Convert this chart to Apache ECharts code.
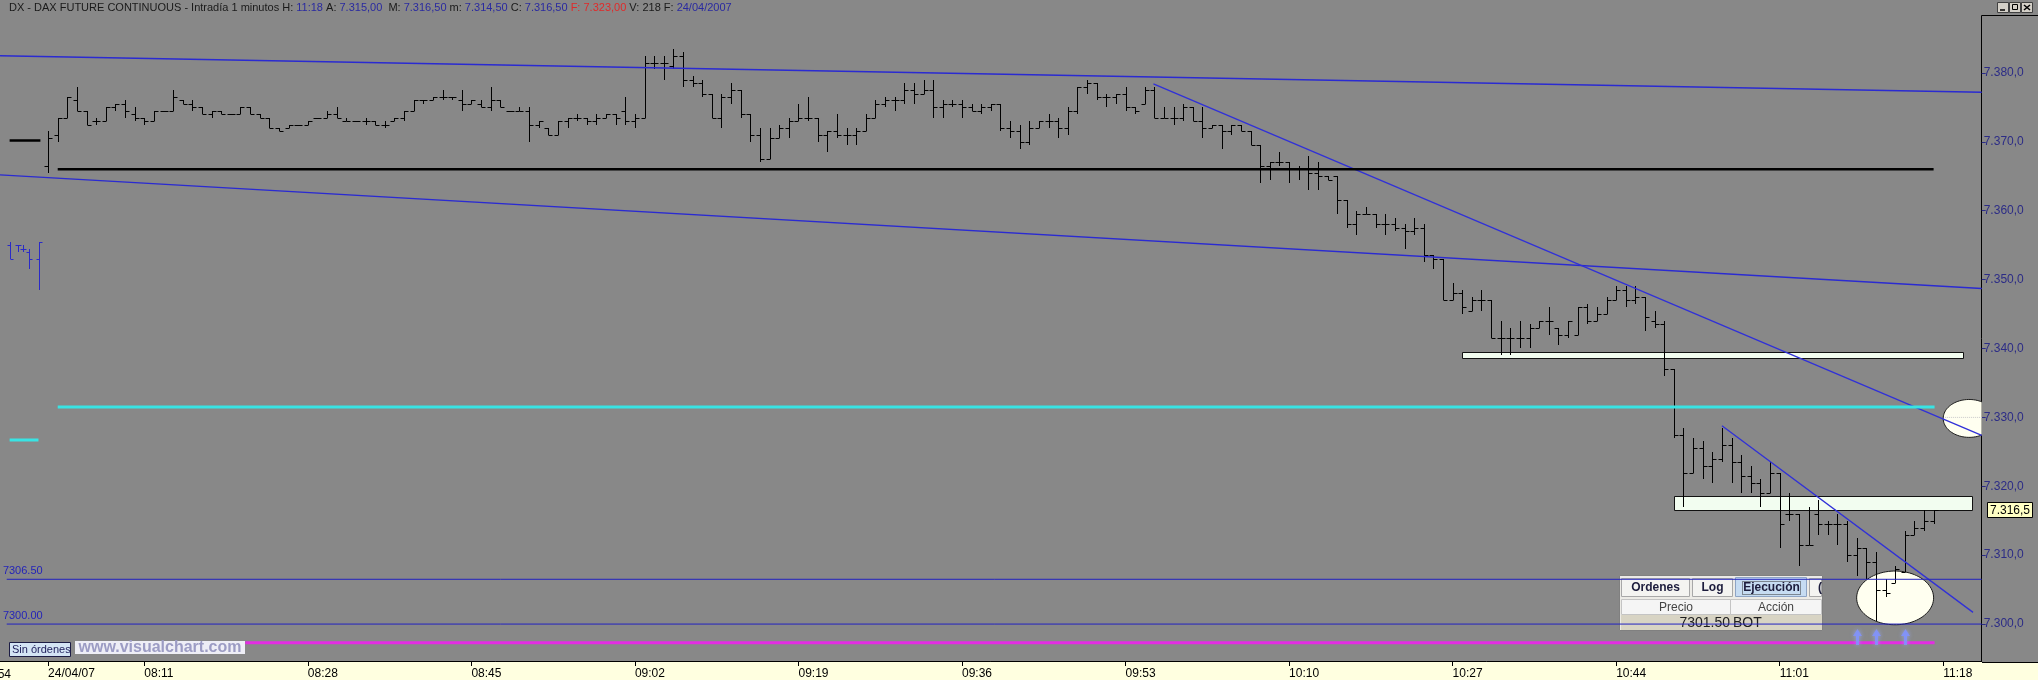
<!DOCTYPE html>
<html>
<head>
<meta charset="utf-8">
<title>DAX Future Continuous - 1 minuto</title>
<script src="https://cdn.jsdelivr.net/npm/echarts@6/dist/echarts.min.js"></script>
<style>
  html, body { margin: 0; padding: 0; background: #888888; }
  #chart { width: 2038px; height: 680px; }
</style>
</head>
<body>
<div id="chart"></div>
<script>
// minutes since midnight; first bar of the session is 08:01
const firstBarMinute = 481

const opens = [
  7366.5, 7371, 7373.5, 7376, 7374.5, 7373, 7373, 7375, 7375.5, 7374,
  7373.5, 7373, 7374.5, 7374.5, 7376, 7375.5, 7375, 7374, 7374.5, 7374,
  7374, 7375, 7374, 7373.5, 7372, 7372, 7372.5, 7372.5, 7373.5, 7373.5,
  7374, 7373, 7373, 7373, 7373, 7372.5, 7373, 7373.5, 7374.5, 7376,
  7376, 7376.5, 7376.5, 7376, 7375.5, 7375.5, 7375, 7376, 7374.5, 7374.5,
  7374.5, 7372.5, 7372, 7371, 7373, 7373.5, 7373.5, 7373, 7373.5, 7374,
  7374.5, 7373, 7373.5, 7381.5, 7381.5, 7381, 7382.5, 7379, 7378.5, 7377,
  7373.5, 7376.5, 7377.5, 7374, 7371, 7367.5, 7370.5, 7372, 7373, 7373.5,
  7373.5, 7371, 7371.5, 7371, 7371, 7371.5, 7373.5, 7375.5, 7376, 7376,
  7377.5, 7377, 7377.5, 7375, 7375.5, 7375.5, 7375, 7374.5, 7375, 7375.5,
  7372, 7371.5, 7370, 7372, 7373, 7373, 7372, 7374.5, 7378, 7378.5,
  7376.5, 7376.5, 7377, 7375, 7375.5, 7377.5, 7373.5, 7373.5, 7373.5, 7375,
  7373, 7372, 7372.5, 7371.5, 7372.5, 7371.5, 7369.5, 7366.5, 7367, 7367,
  7366, 7366, 7365.5, 7365, 7365, 7361.5, 7358, 7359.5, 7359.5, 7358,
  7358, 7357.5, 7357, 7357.5, 7353.5, 7353, 7347, 7348, 7345.5, 7347,
  7347, 7341.5, 7341.5, 7341.5, 7341.5, 7343, 7344, 7343, 7342, 7342,
  7346, 7344, 7345, 7347, 7348.5, 7347, 7347.5, 7344, 7343.5, 7337,
  7327.5, 7322, 7325.5, 7323, 7324, 7326, 7323.5, 7321.5, 7320.5, 7319,
  7322, 7316, 7316, 7311.5, 7316, 7314.5, 7314.5, 7314.5, 7310, 7311,
  7309, 7305, 7306, 7307.5, 7313, 7314, 7315
]
const highs = [
  7371.5, 7373.5, 7376.5, 7378, 7374.5, 7373.5, 7375, 7375.5, 7376, 7375,
  7373.5, 7374.5, 7374.5, 7377.5, 7376, 7376, 7375, 7374.5, 7374.5, 7374,
  7375, 7375, 7374, 7373.5, 7372, 7372.5, 7372.5, 7373, 7373.5, 7374.5,
  7375, 7373.5, 7373, 7373.5, 7373, 7373, 7373.5, 7374.5, 7376, 7376,
  7376.5, 7377.5, 7376.5, 7377.5, 7376, 7376, 7378, 7376, 7374.5, 7375,
  7375, 7373, 7372, 7373, 7373.5, 7374, 7373.5, 7374, 7374, 7374,
  7376.5, 7374, 7382.5, 7382.5, 7382.5, 7383.5, 7383, 7379.5, 7379, 7377,
  7377, 7378.5, 7377.5, 7374, 7372, 7372, 7372.5, 7373.5, 7375.5, 7376.5,
  7373.5, 7371.5, 7374, 7372, 7372, 7374, 7376, 7376.5, 7376.5, 7378.5,
  7378.5, 7379, 7379, 7376, 7376, 7376, 7375.5, 7375.5, 7375.5, 7375.5,
  7373, 7372.5, 7373, 7373, 7374, 7373.5, 7375, 7378, 7379, 7378.5,
  7377, 7377, 7378, 7375, 7378, 7378, 7375, 7375, 7375.5, 7375,
  7375, 7372.5, 7372.5, 7372.5, 7372.5, 7371.5, 7369.5, 7367, 7368.5, 7367,
  7366.5, 7368, 7367, 7365, 7365, 7361.5, 7360, 7360.5, 7359.5, 7359.5,
  7359, 7358, 7359, 7358, 7353.5, 7353, 7349.5, 7348.5, 7347.5, 7348.5,
  7347, 7344, 7343, 7344, 7343.5, 7344, 7346, 7343, 7344, 7346,
  7346.5, 7346, 7347.5, 7349, 7349, 7349, 7347.5, 7345.5, 7344, 7337,
  7328.5, 7327, 7326.5, 7325, 7328.5, 7327, 7324.5, 7323, 7321, 7323.5,
  7322, 7319, 7316, 7317, 7318, 7315, 7316, 7315, 7312.5, 7311,
  7310.5, 7306.5, 7308.5, 7313.5, 7315, 7316.5, 7316.5
]
const lows = [
  7365.5, 7370, 7373.5, 7374.5, 7372.5, 7372.5, 7373, 7374.5, 7373.5, 7373,
  7372.5, 7373, 7374.5, 7374.5, 7375.5, 7374.5, 7374, 7373.5, 7374, 7374,
  7374, 7374, 7373.5, 7372, 7371.5, 7372, 7372.5, 7372.5, 7373.5, 7373.5,
  7373.5, 7373, 7373, 7372.5, 7372.5, 7372, 7373, 7373, 7374.5, 7375.5,
  7376, 7376, 7376, 7374.5, 7375.5, 7375, 7374.5, 7375, 7374.5, 7374.5,
  7370, 7372, 7371, 7371, 7372, 7373, 7372.5, 7372.5, 7373.5, 7372.5,
  7372.5, 7372, 7373.5, 7380.5, 7379, 7380.5, 7378, 7378, 7376.5, 7373.5,
  7372, 7375.5, 7373.5, 7370, 7367, 7367.5, 7370.5, 7370.5, 7373, 7373,
  7370, 7368.5, 7370.5, 7369.5, 7369.5, 7371.5, 7373.5, 7375, 7374.5, 7375.5,
  7375.5, 7377, 7373.5, 7373.5, 7375, 7373.5, 7374.5, 7374, 7374.5, 7371.5,
  7370.5, 7369, 7369.5, 7372, 7372, 7370.5, 7371, 7374, 7377, 7376,
  7375, 7375.5, 7374.5, 7374, 7375.5, 7373.5, 7373.5, 7372.5, 7373, 7373,
  7370.5, 7372, 7369, 7371, 7371.5, 7369.5, 7364, 7364.5, 7366.5, 7364,
  7364.5, 7363, 7363, 7364.5, 7359.5, 7357.5, 7356.5, 7359.5, 7357.5, 7356.5,
  7357, 7354.5, 7356.5, 7352.5, 7351.5, 7347, 7347, 7345, 7345.5, 7345.5,
  7341.5, 7339, 7339, 7340, 7340, 7343, 7342, 7340.5, 7341.5, 7342,
  7343.5, 7344, 7345, 7347, 7346, 7346.5, 7342.5, 7343, 7336, 7327,
  7317, 7322, 7321, 7320.5, 7323.5, 7320.5, 7319, 7319, 7317, 7319,
  7311, 7315, 7308.5, 7311.5, 7313, 7313, 7311.5, 7309, 7307, 7306.5,
  7300.5, 7304, 7306, 7307.5, 7313, 7313.5, 7314.5
]
const closes = [
  7370.5, 7373.5, 7376.5, 7374.5, 7372.5, 7373, 7375, 7375.5, 7374.5, 7373.5,
  7373, 7374.5, 7374.5, 7376.5, 7375.5, 7375, 7374, 7374.5, 7374, 7374,
  7375, 7374, 7373.5, 7372, 7371.5, 7372.5, 7372.5, 7373, 7373.5, 7374,
  7373.5, 7373, 7373, 7373, 7372.5, 7372.5, 7373.5, 7374.5, 7376, 7376,
  7376.5, 7376.5, 7376.5, 7375.5, 7376, 7375, 7376, 7375, 7374.5, 7374.5,
  7372.5, 7373, 7371, 7373, 7373.5, 7373.5, 7373, 7373.5, 7374, 7373.5,
  7373, 7373.5, 7381.5, 7381.5, 7381.5, 7382.5, 7379, 7378.5, 7377, 7373.5,
  7376.5, 7377.5, 7374, 7371, 7367.5, 7370.5, 7372, 7373, 7373.5, 7373.5,
  7371, 7371.5, 7371, 7371, 7371.5, 7373.5, 7375.5, 7376, 7376, 7377.5,
  7377, 7377.5, 7375, 7375.5, 7375.5, 7375, 7374.5, 7375, 7375.5, 7372,
  7371.5, 7370, 7372, 7373, 7373, 7372, 7374.5, 7378, 7378.5, 7376.5,
  7376.5, 7377, 7375, 7374.5, 7377.5, 7373.5, 7373.5, 7373.5, 7375, 7373,
  7372, 7372.5, 7371.5, 7372.5, 7371.5, 7369.5, 7366.5, 7367, 7367, 7366,
  7366, 7365.5, 7365, 7364.5, 7361.5, 7358, 7359.5, 7359.5, 7358, 7358,
  7357.5, 7357, 7357.5, 7353.5, 7353, 7347, 7348, 7346, 7347, 7347,
  7341.5, 7341.5, 7341.5, 7341.5, 7343, 7344, 7344, 7342, 7344, 7346,
  7344, 7345, 7347, 7348.5, 7347, 7347.5, 7344.5, 7343.5, 7337, 7327.5,
  7322, 7325.5, 7323, 7324, 7326, 7323.5, 7321.5, 7320.5, 7319, 7322,
  7314.5, 7316, 7311.5, 7311.5, 7314.5, 7314.5, 7314.5, 7310, 7311, 7309,
  7305, 7304.5, 7308, 7313, 7314, 7315, 7316.5
]

// leftover blue bars at the left edge: [minute, open, high, low, close]
const prevBars = [
  [477.0, 7355, 7355.5, 7353, 7353],
  [477.9, 7355, 7355, 7354, 7355],
  [478.4, 7354.5, 7355, 7354, 7354.5],
  [479.0, 7354, 7354.5, 7351.5, 7353],
  [480.1, 7353, 7355.5, 7348.5, 7355.5]
]

// axis ticks
const timeTicks = [481, 491, 508, 525, 542, 559, 576, 593, 610, 627, 644, 661, 678]
const priceTicks = [7300, 7310, 7320, 7330, 7340, 7350, 7360, 7370, 7380]

// drawn objects: [minute, price] end points
const upperChannel = [[476, 7382.5], [682, 7377.2]]
const lowerChannel = [[476, 7365.2], [682, 7348.7]]
const trendLong = [[595.9, 7378.4], [682, 7327.4]]
const trendShort = [[655, 7328.8], [681.1, 7301.7]]
const blackLevel = [[482, 7366], [677, 7366]]
const blackStub = [[477, 7370.2], [480.2, 7370.2]]
const cyanLevel = [[482, 7331.5], [677.1, 7331.5]]
const cyanStub = [[477, 7326.7], [480, 7326.7]]
const stopLevel = [[476.7, 7306.5], [682, 7306.5]]
const baseLevel = [[476.7, 7300], [682, 7300]]
const magentaLevel = [[501.5, 7297.3], [677.1, 7297.3]]
const dottedLevel = [[678.2, 7330], [682, 7330]]
const levelLabels = [[476.3, 7306.5], [476.3, 7300]]
const levelTexts = ['7306.50', '7300.00']

// rectangles and ellipses: [minute1, price1, minute2, price2]
const zoneBoxes = [
  [628, 7339.5, 680.1, 7338.6],
  [650, 7318.6, 681, 7316.6]
]
const ellipses = [
  [669.0, 7307.7, 677.0, 7299.9],
  [678.0, 7332.6, 683.4, 7327.1]
]
// buy arrows: [minute, price of the tip]
const buyArrows = [[669, 7299.3], [671, 7299.3], [674, 7299.3]]
const lastPrice = [[682, 7316.5]]

function pad(n) {
  return n < 10 ? '0' + n : '' + n
}

function timeLabel(v) {
  if (v === firstBarMinute) return '24/04/07'
  return pad(Math.floor(v / 60)) + ':' + pad(v % 60)
}

function priceLabel(v, digits) {
  const parts = v.toFixed(digits).split('.')
  return parts[0].replace(/\B(?=(\d{3})+(?!\d))/g, '.') + ',' + parts[1]
}

function plotClip(params) {
  const cs = params.coordSys
  return { type: 'rect', shape: { x: cs.x, y: cs.y, width: cs.width, height: cs.height } }
}

function ohlcRenderer(color, tick) {
  return function(params, api) {
    const t = api.value(0)
    const pO = api.coord([t, api.value(1)])
    const pH = api.coord([t, api.value(2)])
    const pL = api.coord([t, api.value(3)])
    const pC = api.coord([t, api.value(4)])
    const x = Math.round(pO[0]) + 0.5
    const yO = Math.round(pO[1]) + 0.5
    const yC = Math.round(pC[1]) + 0.5
    const style = { stroke: color, lineWidth: 1 }
    return {
      type: 'group',
      children: [
        { type: 'line', shape: { x1: x, y1: Math.round(pH[1]), x2: x, y2: Math.max(Math.round(pL[1]), Math.round(pH[1]) + 1) }, style },
        { type: 'line', shape: { x1: x - tick, y1: yO, x2: x, y2: yO }, style },
        { type: 'line', shape: { x1: x, y1: yC, x2: x + tick, y2: yC }, style }
      ]
    }
  }
}

const bars = opens.map((o, i) => [firstBarMinute + i, o, highs[i], lows[i], closes[i]])

function lineSeries(data, color, width, z, type) {
  return {
    type: 'line',
    data: data,
    symbol: 'none',
    silent: true,
    z: z,
    lineStyle: { color: color, width: width, type: type || 'solid' }
  }
}

const chart = echarts.init(document.getElementById('chart'))

const options = {
  animation: false,
  backgroundColor: '#888888',
  textStyle: { fontFamily: 'Liberation Sans' },
  grid: {
    left: 0,
    right: 56.3,
    top: 16,
    bottom: 18
  },
  xAxis: {
    type: 'value',
    min: 476,
    max: 682,
    axisLine: { show: true, lineStyle: { color: '#000', width: 1 } },
    axisTick: { show: true, length: 5, lineStyle: { color: '#000' }, customValues: timeTicks },
    axisLabel: {
      customValues: timeTicks,
      formatter: timeLabel,
      align: 'left',
      margin: 7,
      color: '#000',
      fontSize: 12,
      fontFamily: 'Liberation Sans'
    },
    splitLine: { show: false }
  },
  yAxis: {
    type: 'value',
    position: 'right',
    min: 7294.64,
    max: 7388.26,
    axisLine: { show: true, lineStyle: { color: '#000', width: 1 } },
    axisTick: { show: true, length: 4, lineStyle: { color: '#2c2c86' }, customValues: priceTicks },
    axisLabel: {
      customValues: priceTicks,
      formatter: v => priceLabel(v, 1),
      margin: 2,
      color: '#2c2c86',
      fontSize: 12,
      fontFamily: 'Liberation Sans'
    },
    splitLine: { show: false }
  },
  series: [
    {
      type: 'custom',
      name: 'ellipses',
      data: ellipses,
      silent: true,
      z: 1,
      renderItem(params, api) {
        const a = api.coord([api.value(0), api.value(1)])
        const b = api.coord([api.value(2), api.value(3)])
        const cx = (a[0] + b[0]) / 2
        const cy = (a[1] + b[1]) / 2
        const rx = Math.abs(b[0] - a[0]) / 2
        const ry = Math.abs(b[1] - a[1]) / 2
        const pts = []
        for (let k = 0; k < 90; k++) {
          const ang = k / 90 * Math.PI * 2
          pts.push([cx + rx * Math.cos(ang), cy + ry * Math.sin(ang)])
        }
        return {
          type: 'polygon',
          clipPath: plotClip(params),
          shape: { points: pts },
          style: { fill: '#fffff0', stroke: '#1a1a1a', lineWidth: 1 }
        }
      }
    },
    {
      type: 'custom',
      name: 'zones',
      data: zoneBoxes,
      silent: true,
      z: 2,
      renderItem(params, api) {
        const a = api.coord([api.value(0), api.value(1)])
        const b = api.coord([api.value(2), api.value(3)])
        return {
          type: 'rect',
          shape: {
            x: Math.round(a[0]) + 0.5,
            y: Math.round(a[1]) + 0.5,
            width: Math.round(b[0] - a[0]),
            height: Math.round(b[1] - a[1])
          },
          style: { fill: '#f2fdf0', stroke: '#111', lineWidth: 1 }
        }
      }
    },
    {
      type: 'custom',
      name: 'prev',
      data: prevBars,
      silent: true,
      z: 4,
      encode: { x: 0, y: [1, 2, 3, 4] },
      renderItem: ohlcRenderer('#2a2ac8', 3)
    },
    {
      type: 'custom',
      name: 'DAX',
      data: bars,
      silent: true,
      z: 4,
      encode: { x: 0, y: [1, 2, 3, 4] },
      renderItem: ohlcRenderer('#000', 4)
    },
    lineSeries(upperChannel, '#2a2ad2', 1.4, 5),
    lineSeries(lowerChannel, '#2a2ad2', 1.4, 5),
    lineSeries(trendLong, '#3030d8', 1.3, 5),
    lineSeries(trendShort, '#3030d8', 1.3, 5),
    lineSeries(stopLevel, '#2222c0', 1, 5),
    lineSeries(baseLevel, '#2222c0', 1, 5),
    lineSeries(blackLevel, '#000', 2.5, 5),
    lineSeries(blackStub, '#000', 2.5, 5),
    lineSeries(cyanLevel, '#38e4e4', 3, 5),
    lineSeries(cyanStub, '#38e4e4', 3, 5),
    lineSeries(magentaLevel, '#e42ce4', 3, 5),
    lineSeries(dottedLevel, '#c8c8c8', 1, 5, 'dotted'),
    {
      type: 'custom',
      name: 'arrows',
      data: buyArrows,
      clip: false,
      silent: true,
      z: 6,
      renderItem(params, api) {
        const p = api.coord([api.value(0), api.value(1)])
        const x = Math.round(p[0]) + 0.5
        const y = p[1]
        return {
          type: 'polygon',
          shape: {
            points: [[x, y], [x - 4.5, y + 7], [x - 1.5, y + 7], [x - 1.5, y + 16], [x + 1.5, y + 16], [x + 1.5, y + 7], [x + 4.5, y + 7]]
          },
          style: { fill: 'rgba(128,146,255,0.85)', shadowBlur: 4, shadowColor: 'rgba(150,170,255,0.9)' }
        }
      }
    },
    {
      type: 'custom',
      name: 'levelLabels',
      data: levelLabels,
      clip: false,
      silent: true,
      z: 6,
      renderItem(params, api) {
        const p = api.coord([api.value(0), api.value(1)])
        return {
          type: 'text',
          x: p[0],
          y: p[1] - 2.5,
          style: {
            text: levelTexts[params.dataIndex],
            fill: '#2424b8',
            font: '11px "Liberation Sans"',
            verticalAlign: 'bottom'
          }
        }
      }
    },
    {
      type: 'custom',
      name: 'lastPrice',
      data: lastPrice,
      clip: false,
      silent: true,
      z: 10,
      renderItem(params, api) {
        const p = api.coord([api.value(0), api.value(1)])
        const x = Math.round(p[0])
        const y = Math.round(p[1])
        return {
          type: 'group',
          children: [
            { type: 'rect', shape: { x: x + 5.5, y: y - 7.5, width: 45, height: 15 }, style: { fill: '#ffffc4', stroke: '#000', lineWidth: 1 } },
            { type: 'text', x: x + 8, y: y + 0.5, style: { text: priceLabel(api.value(1), 1), fill: '#000', font: '12px "Liberation Sans"', verticalAlign: 'middle' } }
          ]
        }
      }
    }
  ],
  graphic: [
    // axis strip at the bottom
    { type: 'rect', z: -5, shape: { x: 0, y: 662, width: 2038, height: 18 }, style: { fill: '#ffffe0' } },
    { type: 'line', z: 20, shape: { x1: 1982, y1: 662.5, x2: 2038, y2: 662.5 }, style: { stroke: '#000', lineWidth: 1 } },
    { type: 'line', z: 20, shape: { x1: 1981.5, y1: 15.5, x2: 2038, y2: 15.5 }, style: { stroke: '#000', lineWidth: 1 } },
    // the 07:54 label, cut by the left edge
    { type: 'text', z: 20, x: -19, y: 669, style: { text: '07:54', fill: '#000', font: '12px "Liberation Sans"' } },
    // title
    {
      type: 'text',
      z: 20,
      x: 9,
      y: 8,
      style: {
        text: '{k|DX - DAX FUTURE CONTINUOUS - Intradía 1 minutos H: }{v|11:18}{k| A: }{v|7.315,00}{k|  M: }{v|7.316,50}{k| m: }{v|7.314,50}{k| C: }{v|7.316,50}{r| F: 7.323,00}{k| V: 218 F: }{v|24/04/2007}',
        verticalAlign: 'middle',
        rich: {
          k: { fill: '#1a1a1a', font: '11px "Liberation Sans"' },
          v: { fill: '#2a2aa0', font: '11px "Liberation Sans"' },
          r: { fill: '#e02a2a', font: '11px "Liberation Sans"' }
        }
      }
    },
    // window buttons
    {
      type: 'group',
      z: 20,
      children: [
        { type: 'rect', shape: { x: 1997.5, y: 2.5, width: 11, height: 10 }, style: { fill: '#d4d0c8', stroke: '#404040' } },
        { type: 'rect', shape: { x: 2009.5, y: 2.5, width: 11, height: 10 }, style: { fill: '#d4d0c8', stroke: '#404040' } },
        { type: 'rect', shape: { x: 2021.5, y: 2.5, width: 11, height: 10 }, style: { fill: '#d4d0c8', stroke: '#404040' } },
        { type: 'line', shape: { x1: 2000, y1: 10, x2: 2005, y2: 10 }, style: { stroke: '#000', lineWidth: 1.5 } },
        { type: 'rect', shape: { x: 2012.5, y: 4.5, width: 5, height: 5 }, style: { fill: 'none', stroke: '#000' } },
        { type: 'line', shape: { x1: 2024, y1: 5, x2: 2030, y2: 10 }, style: { stroke: '#000', lineWidth: 1.5 } },
        { type: 'line', shape: { x1: 2030, y1: 5, x2: 2024, y2: 10 }, style: { stroke: '#000', lineWidth: 1.5 } }
      ]
    },
    // order status button and watermark
    { type: 'rect', z: 20, shape: { x: 9.5, y: 642.5, width: 61, height: 14 }, style: { fill: '#d4e4f4', stroke: '#1c1c44' } },
    { type: 'text', z: 21, x: 12, y: 650, style: { text: 'Sin órdenes', fill: '#1e1e5a', font: '11px "Liberation Sans"', verticalAlign: 'middle' } },
    { type: 'rect', z: 20, shape: { x: 75, y: 641, width: 170, height: 13 }, style: { fill: '#eeeef6' } },
    { type: 'text', z: 21, x: 160, y: 647.5, style: { text: 'www.visualchart.com', fill: '#9c9cc4', font: 'bold 16px "Liberation Sans"', align: 'center', verticalAlign: 'middle' } },
    // order panel
    {
      type: 'group',
      z: 30,
      children: [
        { type: 'rect', shape: { x: 1619.5, y: 575.5, width: 203, height: 55 }, style: { fill: '#ecebe6', stroke: '#808080' } },
        { type: 'rect', shape: { x: 1621.5, y: 578.5, width: 68, height: 18 }, style: { fill: '#f4f4f1', stroke: '#a8a8a8' } },
        { type: 'text', x: 1655.5, y: 588, style: { text: 'Ordenes', fill: '#1c1c3c', font: 'bold 12px "Liberation Sans"', align: 'center', verticalAlign: 'middle' } },
        { type: 'rect', shape: { x: 1692.5, y: 578.5, width: 40, height: 18 }, style: { fill: '#f4f4f1', stroke: '#a8a8a8' } },
        { type: 'text', x: 1712.5, y: 588, style: { text: 'Log', fill: '#1c1c3c', font: 'bold 12px "Liberation Sans"', align: 'center', verticalAlign: 'middle' } },
        { type: 'rect', shape: { x: 1735.5, y: 577.5, width: 71, height: 19 }, style: { fill: '#c6dcf2', stroke: '#8ea4c4' } },
        { type: 'rect', shape: { x: 1742.5, y: 581.5, width: 58, height: 13 }, style: { fill: 'none', stroke: '#333', lineDash: [1, 1] } },
        { type: 'text', x: 1771.5, y: 588, style: { text: 'Ejecución', fill: '#1c1c3c', font: 'bold 12px "Liberation Sans"', align: 'center', verticalAlign: 'middle' } },
        { type: 'rect', shape: { x: 1809.5, y: 578.5, width: 12, height: 18 }, style: { fill: '#f4f4f1', stroke: '#a8a8a8' } },
        { type: 'text', x: 1818, y: 588, style: { text: '(', fill: '#1c1c3c', font: 'bold 12px "Liberation Sans"', verticalAlign: 'middle' } },
        { type: 'rect', shape: { x: 1621.5, y: 599.5, width: 109, height: 15 }, style: { fill: '#f5f5f5', stroke: '#c4c4c4' } },
        { type: 'rect', shape: { x: 1730.5, y: 599.5, width: 91, height: 15 }, style: { fill: '#f5f5f5', stroke: '#c4c4c4' } },
        { type: 'text', x: 1676, y: 607.5, style: { text: 'Precio', fill: '#444', font: '12px "Liberation Sans"', align: 'center', verticalAlign: 'middle' } },
        { type: 'text', x: 1776, y: 607.5, style: { text: 'Acción', fill: '#444', font: '12px "Liberation Sans"', align: 'center', verticalAlign: 'middle' } },
        { type: 'rect', shape: { x: 1621, y: 615, width: 201, height: 15 }, style: { fill: '#d8d4c4' } },
        { type: 'text', x: 1730, y: 623, style: { text: '7301.50', fill: '#1e1e1e', font: '14px "Liberation Sans"', align: 'right', verticalAlign: 'middle' } },
        { type: 'text', x: 1733, y: 623, style: { text: 'BOT', fill: '#1e1e1e', font: '14px "Liberation Sans"', verticalAlign: 'middle' } }
      ]
    }
  ]
}

chart.setOption(options)
window.addEventListener('resize', function() {
  chart.resize()
})
</script>
</body>
</html>
